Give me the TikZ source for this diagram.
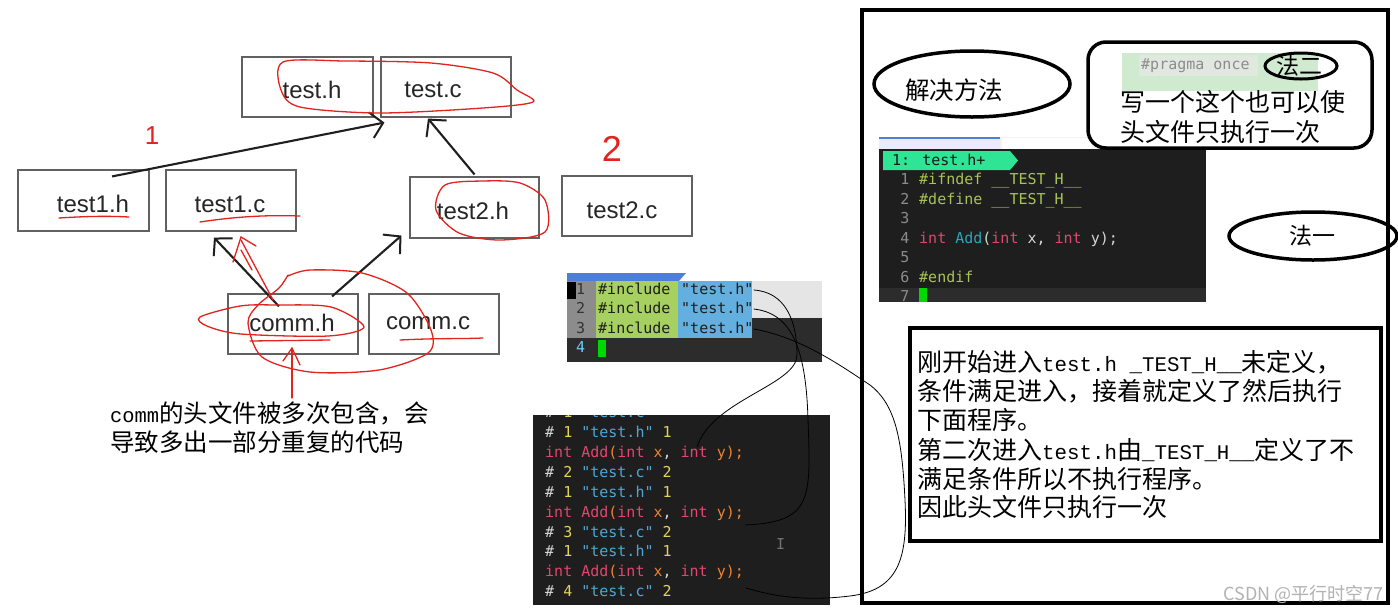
\documentclass[tikz,border=0pt]{standalone}
\usepackage{fontspec}
\usetikzlibrary{arrows.meta,calc}
\setmainfont{Liberation Serif}
\newfontfamily\cjk{Noto Sans CJK SC}
\newfontfamily\arialf{Liberation Sans}
\newfontfamily\monof{DejaVu Sans Mono}
\newfontfamily\hwf{Liberation Mono}
\newcommand\hw[1]{{\hwf\fontsize{20.8}{20.8}\selectfont #1}}
\newcommand\hws[1]{{\hwf\fontsize{20.4}{20.4}\selectfont #1}}
\definecolor{cbg}{HTML}{1E1E1E}
\definecolor{cbg2}{HTML}{2C2C2C}
\definecolor{cgy}{HTML}{A8C354}
\definecolor{cpk}{HTML}{E2456F}
\definecolor{cteal}{HTML}{2AA8B8}
\definecolor{cyl}{HTML}{E3D35A}
\definecolor{cbl}{HTML}{4FA6D6}
\definecolor{cor}{HTML}{EE8232}
\definecolor{cwh}{HTML}{D6D6D6}
\definecolor{cnum}{HTML}{8C8C8C}
\definecolor{cmint}{HTML}{2EE596}
\definecolor{cred}{HTML}{E2231E}
\definecolor{tabblue}{HTML}{4D7FD6}
\definecolor{incgreen}{HTML}{A6D05F}
\definecolor{strblue}{HTML}{62AFE0}
\definecolor{lgrey}{HTML}{E5E5E5}
\definecolor{pragbg}{HTML}{D0EAD0}
\definecolor{pragin}{HTML}{E0E8E0}
\begin{document}
\begin{tikzpicture}[x=1pt,y=-1pt,
  fbox/.style={draw=black!62,line width=1.1pt,inner sep=0,minimum width=130pt,minimum height=60pt},
  flabel/.style={font=\arialf\fontsize{24}{24}\selectfont,text=black!85,inner sep=0},
  harrow/.style={line width=2.1pt,draw=black!88,-{Straight Barb[length=12pt,width=26pt,line width=2pt]}},
  redline/.style={draw=cred,line width=1.3pt,line cap=round},
  code/.style={font=\monof\fontsize{15}{15}\selectfont,inner sep=0,text height=11pt,text depth=3pt,anchor=west},
  zh/.style={font=\cjk\fontsize{25}{25}\selectfont,inner sep=0,anchor=west},
  zhs/.style={font=\cjk\fontsize{24.5}{24.5}\selectfont,inner sep=0,anchor=west},
  thinc/.style={draw=black,line width=0.8pt}]
\useasboundingbox (0,0) rectangle (1398,614);
\fill[white] (0,0) rectangle (1398,614);

% ---------------- left diagram ----------------
\node[fbox,minimum width=131pt] (testh) at (307.5,87) {};
\node[fbox] (testc) at (446,87) {};
\node[fbox,minimum width=131pt,minimum height=61pt] (test1h) at (83.5,200.5) {};
\node[fbox,minimum height=61pt] (test1c) at (231,200.5) {};
\node[fbox,minimum width=129pt,minimum height=61pt] (test2h) at (474.5,207.5) {};
\node[fbox] (test2c) at (627,206) {};
\node[fbox] (commh) at (293,324) {};
\node[fbox] (commc) at (434,324) {};
\node[flabel] (ltesth) at (312,90) {test.h};
\node[flabel] (ltestc) at (433,90) {test.c};
\node[flabel] (ltest1h) at (93,204) {test1.h};
\node[flabel] (ltest1c) at (230,204) {test1.c};
\node[flabel] (ltest2h) at (473,211) {test2.h};
\node[flabel] (ltest2c) at (622,210) {test2.c};
\node[flabel] (lcommh) at (292,323) {comm.h};
\node[flabel] (lcommc) at (428,323) {comm.c};

\draw[harrow] ($(test1h.north)+(28.5,7)$) -- ($(testc.south west)+(4,5)$);
\draw[harrow] ($(test2h.north)+(0,-2)$) -- ($(testc.south)+(-18,1)$);
\draw[harrow] ($(commh.north)+(-14,13)$) -- ($(test1c.south)+(-17,6)$);
\draw[harrow] ($(commh.north)+(39,3)$) -- ($(test2h.south west)+(-8,-3)$);

% red annotations
\node[text=cred,font=\arialf\fontsize{26}{26}\selectfont,inner sep=0] (one) at (152,136) {1};
\node[text=cred,font=\arialf\fontsize{36}{36}\selectfont,inner sep=0] (two) at (612,149) {2};
\draw[redline] plot[smooth cycle] coordinates {(283,62) (345,61) (431,63) (493,73) (517,90) (533,102) (483,108) (379,113) (300,107) (281,90)};
\draw[redline] plot[smooth cycle] coordinates {(445,185) (483,181) (520,183) (545,200) (545,232) (500,240) (459,233) (436,210)};
\draw[redline] (59,218) .. controls (90,216) and (110,216) .. (129,217);
\draw[redline] (200,222) .. controls (240,216) and (270,215) .. (300,216);
\draw[redline] (273,300) -- (241,240);
\draw[redline] (233,262) -- (241,237) -- (256,246);
\draw[redline] (252,270) -- (241,250);
\draw[redline] plot[smooth cycle] coordinates {(200,317) (240,306) (276,305) (331,307) (364,327) (328,336) (241,334) (207,326)};
\draw[redline] plot[smooth] coordinates {(288,275) (279,288) (258,305) (248,323) (262,357) (310,372) (379,370) (428,353) (431,330) (407,293) (362,273) (310,270) (288,276)};
\draw[redline] (250,341) -- (330,340);
\draw[redline] (400,340) .. controls (440,338) and (460,339) .. (483,338);
\draw[redline] (292,398) -- (292,349);
\draw[redline] (283,361) -- (292,348) -- (300,365);

\node[zhs] (note1) at (110,413) {\hws{comm}的头文件被多次包含，会};
\node[zhs] (note2) at (110,442) {导致多出一部分重复的代码};

% ---------------- screenshot 1 ----------------
\fill[cbg2] (567,281) rectangle (822,362);
\fill[tabblue] (567,273) -- (686,273) -- (679,281) -- (567,281) -- cycle;
\fill[cnum] (567,281) rectangle (596,338);
\fill[black] (567,282) rectangle (576,299);
\fill[incgreen] (596,281) rectangle (678,338);
\fill[strblue] (678,281) rectangle (752,338);
\fill[lgrey] (752,281) rectangle (822,318);
\fill[green!85!black] (598,340) rectangle (606,357);
\foreach \r/\yy in {1/290,2/309,3/329}{
  \node[code,text=black!80] (sn\r) at (576,\yy) {\r};
  \node[code,text=black!88] (inc\r) at (598,\yy) {\#include};
  \node[code,text=black!88] (str\r) at (681,\yy) {"test.h"};
}
\node[code,text=blue!30!cyan!60] (sn4) at (576,348) {4};

% ---------------- screenshot 2 ----------------
\fill[cbg] (533,415) rectangle (830,605);
\begin{scope}
\clip (533,415) rectangle (830,605);
\node[code] (p0) at (545,413) {\textcolor{cwh}{\#} \textcolor{cyl}{1} \textcolor{cbl}{"test.c"}};
\node[code] (p1) at (545,433) {\textcolor{cwh}{\#} \textcolor{cyl}{1} \textcolor{cbl}{"test.h"} \textcolor{cyl}{1}};
\node[code] (p2) at (545,453) {\textcolor{cpk}{int Add}\textcolor{cor}{(}\textcolor{cpk}{int} \textcolor{cor}{x}\textcolor{cwh}{,} \textcolor{cpk}{int} \textcolor{cor}{y);}};
\node[code] (p3) at (545,473) {\textcolor{cwh}{\#} \textcolor{cyl}{2} \textcolor{cbl}{"test.c"} \textcolor{cyl}{2}};
\node[code] (p4) at (545,493) {\textcolor{cwh}{\#} \textcolor{cyl}{1} \textcolor{cbl}{"test.h"} \textcolor{cyl}{1}};
\node[code] (p5) at (545,513) {\textcolor{cpk}{int Add}\textcolor{cor}{(}\textcolor{cpk}{int} \textcolor{cor}{x}\textcolor{cwh}{,} \textcolor{cpk}{int} \textcolor{cor}{y);}};
\node[code] (p6) at (545,533) {\textcolor{cwh}{\#} \textcolor{cyl}{3} \textcolor{cbl}{"test.c"} \textcolor{cyl}{2}};
\node[code] (p7) at (545,552) {\textcolor{cwh}{\#} \textcolor{cyl}{1} \textcolor{cbl}{"test.h"} \textcolor{cyl}{1}};
\node[code] (p8) at (545,572) {\textcolor{cpk}{int Add}\textcolor{cor}{(}\textcolor{cpk}{int} \textcolor{cor}{x}\textcolor{cwh}{,} \textcolor{cpk}{int} \textcolor{cor}{y);}};
\node[code] (p9) at (545,592) {\textcolor{cwh}{\#} \textcolor{cyl}{4} \textcolor{cbl}{"test.c"} \textcolor{cyl}{2}};
\node[code,text=black!55] (ibeam) at (776,545) {I};
\end{scope}

% ---------------- right frame ----------------
\draw[line width=4pt] (862,10) rectangle (1388,603);

% editor screenshot
\fill[cbg] (879,137) rectangle (1206,302);
\fill[black!5] (879,137) rectangle (1206,149);
\fill[blue!8] (879,137) rectangle (1000,149);
\draw[tabblue,line width=1.5pt] (879,138) -- (1000,138);
\fill[white] (1002,138) rectangle (1092,149);
\fill[cmint] (883,151) -- (1010,151) -- (1018,160.5) -- (1010,170) -- (883,170) -- cycle;
\node[code,text=black!90] (etab) at (892,161) {1: test.h+};
\fill[cbg2] (879,288) rectangle (1206,302);
\fill[green!85!black] (919,288) rectangle (927,302);
\begin{scope}
\clip (879,149) rectangle (1206,302);
\foreach \r/\yy in {1/180,2/200,3/219,4/239,5/258,6/278,7/297}{
  \node[code,text=cnum,anchor=center] (en\r) at (905,\yy) {\r};
}
\end{scope}
\node[code,text=cgy] (e1) at (919,180) {\#ifndef \_\_TEST\_H\_\_};
\node[code,text=cgy] (e2) at (919,200) {\#define \_\_TEST\_H\_\_};
\node[code] (e4) at (919,239) {\textcolor{cpk}{int} \textcolor{cteal}{Add}\textcolor{cwh}{(}\textcolor{cpk}{int} \textcolor{cwh}{x,} \textcolor{cpk}{int} \textcolor{cwh}{y);}};
\node[code,text=cgy] (e6) at (919,278) {\#endif};

% pragma box
\node[draw,line width=3.5pt,rounded corners=18pt,fill=white,minimum width=284pt,minimum height=106pt,inner sep=0] (pragbox) at (1230,95) {};
\fill[pragbg] (1122,53) rectangle (1318,91);
\fill[pragin] (1139,55) rectangle (1258,76);
\node[code,text=black!45] (pragma) at (1141,65) {\#pragma once};
\draw[line width=3pt] (1301,66) ellipse [x radius=36, y radius=13];
\node[zh,font=\cjk\fontsize{23}{23}\selectfont,anchor=center] (fa2) at (1299,66) {法二};
\node[zh] (prag1) at (1120,102) {写一个这个也可以使};
\node[zh] (prag2) at (1120,132) {头文件只执行一次};

% method ellipses
\draw[line width=3.5pt] (972,84) ellipse [x radius=98, y radius=33];
\node[zhs] (jjff) at (905,90) {解决方法};
\draw[line width=3.5pt] (1313,236) ellipse [x radius=84, y radius=24];
\node[zh,font=\cjk\fontsize{23}{23}\selectfont,anchor=center] (fa1) at (1312,236) {法一};

% connecting curves
\draw[thinc] (str1.east) .. controls (785,292) and (797,320) .. (797,355) .. controls (797,385) and (712,400) .. (697,447);
\draw[thinc] (str2.east) .. controls (790,313) and (806,345) .. (808,420) .. controls (811,500) and (812,522) .. (745,525);
\draw[thinc] (str3.east) .. controls (800,337) and (840,365) .. (870,385) .. controls (896,405) and (902,440) .. (905,500) .. controls (908,560) and (898,590) .. (850,596) .. controls (800,602) and (770,595) .. (746,588);

% explanation box
\node[draw,line width=4pt,fill=white,minimum width=471pt,minimum height=213pt,inner sep=0] (explain) at (1145.5,434.5) {};
\node[zh] (x1) at (917,362) {刚开始进入\hw{test.h \_TEST\_H\_\_}未定义，};
\node[zh] (x2) at (917,391) {条件满足进入，接着就定义了然后执行};
\node[zh] (x3) at (917,420) {下面程序。};
\node[zh] (x4) at (917,450) {第二次进入\hw{test.h}由\hw{\_TEST\_H\_\_}定义了不};
\node[zh] (x5) at (917,479) {满足条件所以不执行程序。};
\node[zh] (x6) at (917,507) {因此头文件只执行一次};

% watermark
\node[font=\cjk\fontsize{18}{18}\selectfont,text=black!30,inner sep=0,anchor=east] (wm) at (1384,594) {CSDN @平行时空77};
\end{tikzpicture}
\end{document}
